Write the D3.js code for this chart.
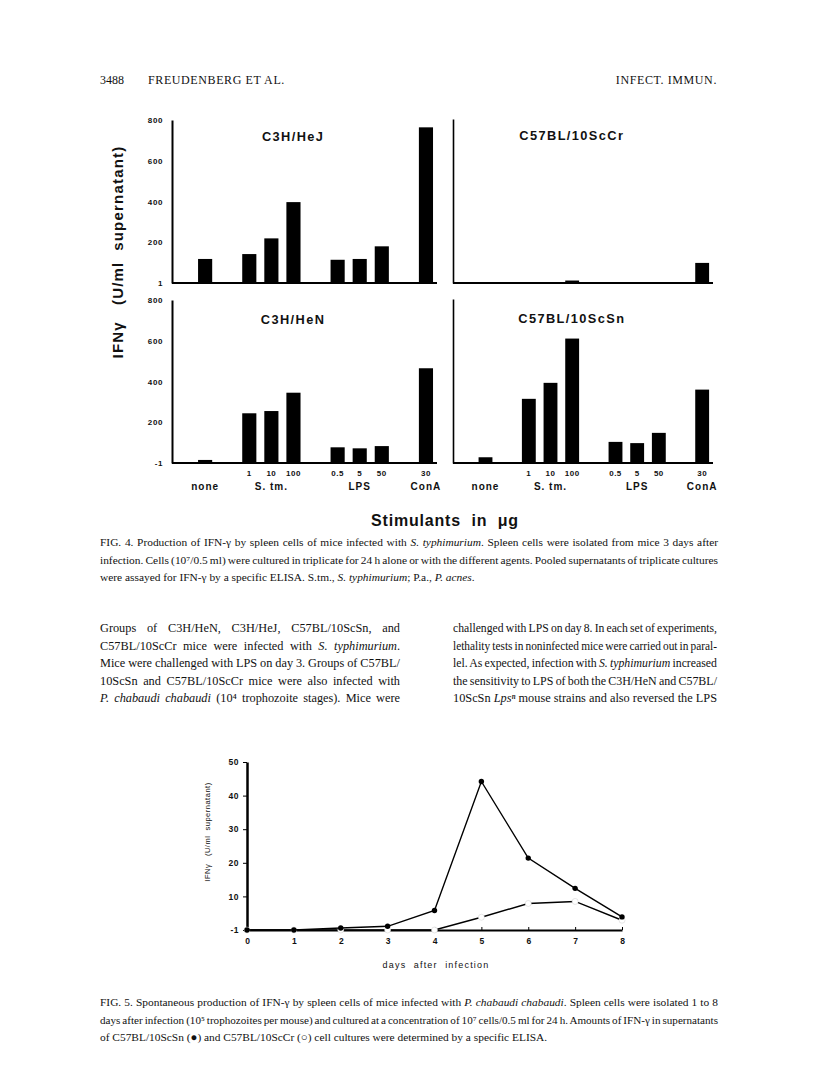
<!DOCTYPE html>
<html><head><meta charset="utf-8">
<script src="https://cdn.jsdelivr.net/npm/d3@7"></script>
<style>body{margin:0;background:#fff} svg{display:block}</style>
</head><body>
<svg id="page" width="816" height="1084"></svg>
<script>
// ---------- DATA ----------
const stimulants = ["none","S. tm.","S. tm.","S. tm.","LPS","LPS","LPS","ConA"];
const doses = ["","1","10","100","0.5","5","50","30"];
const groupLabels = ["none","S. tm.","LPS","ConA"];
const strains = ["C3H/HeJ","C57BL/10ScCr","C3H/HeN","C57BL/10ScSn"];
const ifnC3HHeJ  = [118,142,219,397,114,118,180,764];
const ifnC57ScCr = [0,0,2,12,0,0,0,98];
const ifnC3HHeN  = [15,244,255,345,77,72,83,465];
const ifnC57ScSn = [28,313,391,607,103,97,147,358];
const fig4TickValues = [0,200,400,600,800];
const fig4TickLabelsTop = ["1","200","400","600","800"];
const fig4TickLabelsBottom = ["-1","200","400","600","800"];
const days = [0,1,2,3,4,5,6,7,8];
const ifnScSnDays = [0,0,0.6,1.1,5.8,44.2,21.4,12.4,3.9];
const ifnScCrDays = [0,0,0,0,0,3.8,7.9,8.5,2.9];
const fig5TickValues = [0,10,20,30,40,50];
const fig5TickLabels = ["-1","10","20","30","40","50"];

const header = {left:"3488", authors:"FREUDENBERG ET AL.", right:"INFECT. IMMUN."};
const fig4Caption = [
 "FIG. 4. Production of IFN-γ by spleen cells of mice infected with *S. typhimurium*. Spleen cells were isolated from mice 3 days after",
 "infection. Cells (10⁷/0.5 ml) were cultured in triplicate for 24 h alone or with the different agents. Pooled supernatants of triplicate cultures",
 "were assayed for IFN-γ by a specific ELISA. S.tm., *S. typhimurium*; P.a., *P. acnes*."
];
const bodyLeft = [
 "Groups of C3H/HeN, C3H/HeJ, C57BL/10ScSn, and",
 "C57BL/10ScCr mice were infected with *S. typhimurium*.",
 "Mice were challenged with LPS on day 3. Groups of C57BL/",
 "10ScSn and C57BL/10ScCr mice were also infected with",
 "*P. chabaudi chabaudi* (10⁴ trophozoite stages). Mice were"
];
const bodyRight = [
 "challenged with LPS on day 8. In each set of experiments,",
 "lethality tests in noninfected mice were carried out in paral-",
 "lel. As expected, infection with *S. typhimurium* increased",
 "the sensitivity to LPS of both the C3H/HeN and C57BL/",
 "10ScSn *Lpsⁿ* mouse strains and also reversed the LPS"
];
const fig5Caption = [
 "FIG. 5. Spontaneous production of IFN-γ by spleen cells of mice infected with *P. chabaudi chabaudi*. Spleen cells were isolated 1 to 8",
 "days after infection (10⁵ trophozoites per mouse) and cultured at a concentration of 10⁷ cells/0.5 ml for 24 h. Amounts of IFN-γ in supernatants",
 "of C57BL/10ScSn (●) and C57BL/10ScCr (○) cell cultures were determined by a specific ELISA."
];

// ---------- HELPERS ----------
const svg = d3.select("#page");
const SERIF = "'Liberation Serif','DejaVu Serif','Times New Roman',serif";
const SANS = "'Liberation Sans',Arial,Helvetica,sans-serif";
const INK = "#111";

function textLine(x, y, width, markup, size, justify, anchor) {
  const t = svg.append("text").attr("x", x).attr("y", y)
    .attr("font-family", SERIF).attr("font-size", size).attr("fill", INK)
    .attr("text-anchor", anchor || "start");
  markup.split(/(\*[^*]+\*)/).filter(s => s.length).forEach(p => {
    const italic = p.startsWith("*");
    const ts = t.append("tspan").text(italic ? p.slice(1, -1) : p);
    if (italic) ts.attr("font-style", "italic");
  });
  if (justify) {
    const len = t.node().getComputedTextLength();
    const spaces = (t.text().match(/ /g) || []).length;
    const extra = width - len;
    if (extra >= 0 || !spaces) {
      if (spaces) t.style("word-spacing", (extra / spaces) + "px");
    } else {
      const ws = Math.max(extra / spaces, -0.8);
      t.style("word-spacing", ws + "px");
      t.attr("textLength", width).attr("lengthAdjust", "spacingAndGlyphs");
    }
  }
  return t;
}

// ---------- HEADER ----------
textLine(100, 84, 0, header.left, 12, false);
textLine(148, 84, 0, header.authors, 12, false).attr("letter-spacing", 0.6);
textLine(717, 84, 0, header.right, 12, false, "end").attr("letter-spacing", 0.6);

// ---------- FIG 4 ----------
const slotDomain = [];
let gi = 0;
stimulants.forEach((s, i) => {
  if (i === 0 || s !== stimulants[i - 1]) slotDomain.push("gap" + (gi++));
  slotDomain.push("c" + i);
});
const panels = [
  {x0:172, x1:437, yTop:120, yBase:283, vals:ifnC3HHeJ,  title:strains[0], labels:fig4TickLabelsTop, axisW:2},
  {x0:453, x1:713, yTop:119, yBase:283, vals:ifnC57ScCr, title:strains[1], labels:null, axisW:1.6},
  {x0:172, x1:437, yTop:300, yBase:463, vals:ifnC3HHeN,  title:strains[2], labels:fig4TickLabelsBottom, axisW:2, bottom:true},
  {x0:453, x1:713, yTop:299, yBase:463, vals:ifnC57ScSn, title:strains[3], labels:null, axisW:1.6, bottom:true}
];
panels.forEach(P => {
  const x = d3.scaleBand().domain(slotDomain).range([P.x0, P.x1]).paddingInner(0.36).paddingOuter(0.18);
  const y = d3.scaleLinear().domain([0, 800]).range([P.yBase, P.yTop]);
  const g = svg.append("g");
  g.selectAll("rect").data(P.vals).join("rect")
    .attr("x", (d, i) => x("c" + i)).attr("width", x.bandwidth())
    .attr("y", d => y(d)).attr("height", d => y(0) - y(d)).attr("fill", "#000");
  const ax = d3.axisLeft(y).tickValues(fig4TickValues).tickSize(0).tickPadding(9)
    .tickFormat((d, i) => P.labels ? P.labels[i] : "");
  const ag = g.append("g").attr("transform", `translate(${P.x0},0)`).call(ax);
  ag.select(".domain").attr("stroke", "#000").attr("stroke-width", P.axisW);
  ag.selectAll("text").attr("font-family", SANS).attr("font-weight", "bold")
    .attr("font-size", 8).attr("letter-spacing", 0.6).attr("fill", INK);
  g.append("line").attr("x1", P.x0).attr("x2", P.x1).attr("y1", y(0)).attr("y2", y(0))
    .attr("stroke", "#000").attr("stroke-width", 2);
  g.append("text").attr("x", P.x0 + (P.x1 - P.x0) * 0.457).attr("y", P.yTop + (P.bottom ? 24 : 21))
    .attr("text-anchor", "middle").attr("font-family", SANS).attr("font-weight", "bold")
    .attr("font-size", 12.8).attr("letter-spacing", 1.4).attr("fill", INK).text(P.title);
  if (P.bottom) {
    g.selectAll("text.dose").data(doses).join("text").attr("class", "dose")
      .attr("x", (d, i) => x("c" + i) + x.bandwidth() / 2).attr("y", 476)
      .attr("text-anchor", "middle").attr("font-family", SANS).attr("font-weight", "bold")
      .attr("font-size", 8).attr("letter-spacing", 0.5).attr("fill", INK).text(d => d);
    groupLabels.forEach(gl => {
      const idx = stimulants.map((s, i) => s === gl ? i : -1).filter(i => i >= 0);
      const cx = d3.mean(idx, i => x("c" + i) + x.bandwidth() / 2);
      g.append("text").attr("x", cx).attr("y", 490).attr("text-anchor", "middle")
        .attr("font-family", SANS).attr("font-weight", "bold").attr("font-size", 10)
        .attr("letter-spacing", 1).attr("fill", INK).text(gl);
    });
  }
});
svg.append("text").attr("transform", "translate(123,252) rotate(-90)").attr("text-anchor", "middle")
  .attr("font-family", SANS).attr("font-weight", "bold").attr("font-size", 15)
  .attr("letter-spacing", 1.2).attr("fill", INK).text("IFNγ\u00a0\u00a0\u00a0(U/ml\u00a0\u00a0supernatant)");
svg.append("text").attr("x", 445).attr("y", 526).attr("text-anchor", "middle")
  .attr("font-family", SANS).attr("font-weight", "bold").attr("font-size", 16)
  .attr("letter-spacing", 0.8).attr("fill", INK).text("Stimulants\u00a0 in\u00a0 μg");

fig4Caption.forEach((l, i) => textLine(100, 546 + i * 17.5, 618, l, 11.4, i < 2));
bodyLeft.forEach((l, i) => textLine(100, 632 + i * 17.5, 300, l, 12.3, true));
bodyRight.forEach((l, i) => textLine(453, 632 + i * 17.5, 264, l, 12.3, true));

// ---------- FIG 5 ----------
const x5 = d3.scaleLinear().domain([0, 8]).range([247, 622]);
const y5 = d3.scaleLinear().domain([0, 50]).range([930, 762]);
const g5 = svg.append("g");
const yAx5 = g5.append("g").attr("transform", "translate(247,0)")
  .call(d3.axisLeft(y5).tickValues(fig5TickValues).tickFormat((d, i) => fig5TickLabels[i])
    .tickSizeInner(4).tickSizeOuter(0).tickPadding(4));
yAx5.select(".domain").attr("stroke", "#000").attr("stroke-width", 2.5);
yAx5.selectAll("line").attr("stroke", "#000").attr("stroke-width", 1);
yAx5.selectAll("text").attr("font-family", SANS).attr("font-weight", "bold").attr("font-size", 8.5)
  .attr("letter-spacing", 0.5).attr("fill", INK);
const xAx5 = g5.append("g").attr("transform", "translate(0,930)")
  .call(d3.axisBottom(x5).tickValues(days).tickFormat(d3.format("d"))
    .tickSizeInner(-3).tickSizeOuter(0).tickPadding(8));
xAx5.select(".domain").attr("stroke", "#000").attr("stroke-width", 2);
xAx5.selectAll("line").attr("stroke", "#000").attr("stroke-width", 1);
xAx5.selectAll("text").attr("font-family", SANS).attr("font-weight", "bold").attr("font-size", 8.5)
  .attr("fill", INK);
const line5 = d3.line().x((d, i) => x5(days[i])).y(d => y5(d));
g5.append("path").attr("d", line5(ifnScCrDays)).attr("fill", "none").attr("stroke", "#000").attr("stroke-width", 1.4);
g5.selectAll("circle.open").data(ifnScCrDays).join("circle").attr("class", "open")
  .attr("cx", (d, i) => x5(days[i])).attr("cy", d => y5(d)).attr("r", 3)
  .attr("fill", "#fff").attr("stroke", "#ccc").attr("stroke-width", 0.5);
g5.append("path").attr("d", line5(ifnScSnDays)).attr("fill", "none").attr("stroke", "#000").attr("stroke-width", 1.4);
g5.selectAll("circle.filled").data(ifnScSnDays).join("circle").attr("class", "filled")
  .attr("cx", (d, i) => x5(days[i])).attr("cy", d => y5(d)).attr("r", 2.7).attr("fill", "#000");
svg.append("text").attr("transform", "translate(210,832) rotate(-90)").attr("text-anchor", "middle")
  .attr("font-family", SANS).attr("font-size", 7.5).attr("letter-spacing", 0.5).attr("fill", INK)
  .text("IFNγ\u00a0\u00a0\u00a0(U/ml\u00a0 supernatant)");
svg.append("text").attr("x", 436).attr("y", 968).attr("text-anchor", "middle")
  .attr("font-family", SANS).attr("font-size", 9).attr("letter-spacing", 1.2).attr("fill", INK)
  .text("days\u00a0 after\u00a0 infection");
fig5Caption.forEach((l, i) => textLine(100, 1006 + i * 17.5, 618, l, 11.4, i < 2));
</script>
</body></html>
